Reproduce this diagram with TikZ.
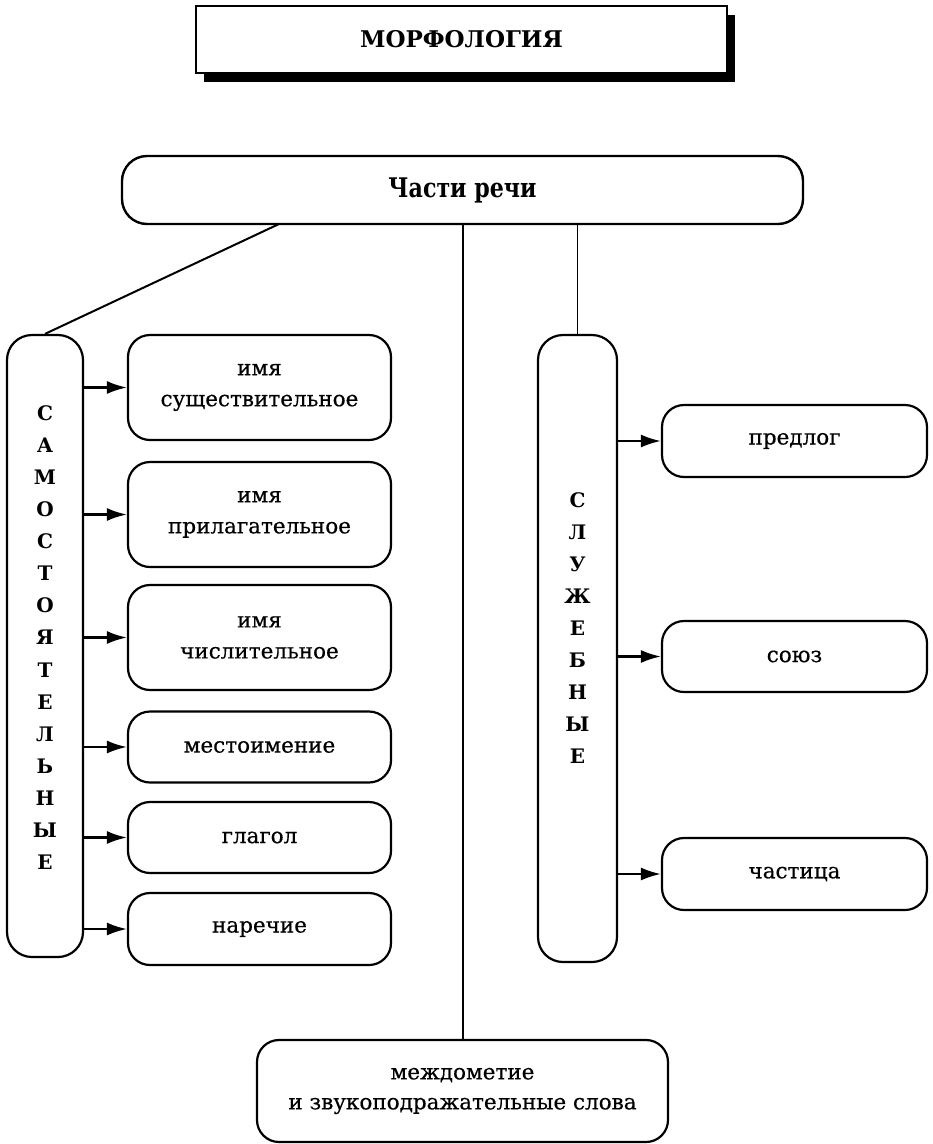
\documentclass[tikz,border=0pt]{standalone}
\usepackage{fontspec}
\setmainfont{DejaVu Serif}
\newfontfamily\bodyfont[FakeBold=0.5]{DejaVu Serif}
\newfontfamily\condfont[FakeStretch=0.82]{DejaVu Serif}
\usetikzlibrary{arrows.meta,shadows}
\begin{document}
\begin{tikzpicture}[x=1pt,y=-1pt,
  box/.style={draw, line width=2.2pt, rounded corners=22pt, inner sep=0pt, align=center,
    font=\bodyfont\fontsize{21.5}{31}\selectfont},
  vbox/.style={draw, line width=2.2pt, rounded corners=25pt, inner sep=0pt},
  vlet/.style={inner sep=0pt, align=center, font=\fontsize{20}{32.1}\selectfont\bfseries},
  link/.style={line width=2pt},
  thinlink/.style={line width=1.4pt},
  arr/.style={line width=2.2pt, -{Latex[length=20pt,width=13pt]}},
]
\useasboundingbox (0,0) rectangle (933,1144);

% title
\node[draw, line width=2.6pt, fill=white, minimum width=531pt, minimum height=67pt, inner sep=0pt,
  drop shadow={shadow xshift=8pt, shadow yshift=-9pt, fill=black, opacity=1},
  font=\fontsize{23}{28}\selectfont\bfseries] (title) at (461.5,39.5) {МОРФОЛОГИЯ};

% parts of speech
\node[draw, line width=2.4pt, rounded corners=25pt, minimum width=681pt, minimum height=68pt, inner sep=0pt,
  font=\condfont\fontsize{27}{30}\selectfont\bfseries] (top) at (462.5,190) {Части речи};

% independent
\node[vbox, minimum width=76pt, minimum height=622pt] (sam) at (45,646) {};
\node[vlet] (samtxt) at (45,637.5) {С\\А\\М\\О\\С\\Т\\О\\Я\\Т\\Е\\Л\\Ь\\Н\\Ы\\Е};

\node[box, minimum width=263pt, minimum height=105pt] (b1) at (259.5,387.5) {имя\\существительное};
\node[box, minimum width=263pt, minimum height=105pt] (b2) at (259.5,514.5) {имя\\прилагательное};
\node[box, minimum width=263pt, minimum height=105pt] (b3) at (259.5,637.5) {имя\\числительное};
\node[box, minimum width=263pt, minimum height=71pt] (b4) at (259.5,747) {местоимение};
\node[box, minimum width=263pt, minimum height=71pt] (b5) at (259.5,837.5) {глагол};
\node[box, minimum width=263pt, minimum height=72pt] (b6) at (259.5,929) {наречие};

% auxiliary
\node[vbox, minimum width=79pt, minimum height=627pt] (slu) at (577.5,648.5) {};
\node[vlet] (slutxt) at (577.5,628) {С\\Л\\У\\Ж\\Е\\Б\\Н\\Ы\\Е};

\node[box, minimum width=265pt, minimum height=72pt] (p1) at (794.5,441) {предлог};
\node[box, minimum width=265pt, minimum height=71pt] (p2) at (794.5,656.5) {союз};
\node[box, minimum width=265pt, minimum height=72pt] (p3) at (794.5,874) {частица};

% interjection
\node[box, minimum width=411pt, minimum height=102pt, font=\bodyfont\fontsize{21.5}{30}\selectfont] (bot) at (462.5,1091)
  {междометие\\и звукоподражательные слова};

% connectors
\coordinate (dg) at (279,224);
\draw[link] (dg) -- (sam.north);
\draw[link] (top.south) -- (bot.north);
\draw[thinlink] (slu.north |- top.south) -- (slu.north);

\foreach \b in {b1,b2,b3,b4,b5,b6}
  \draw[arr] (sam.east |- \b.west) -- (\b.west);
\foreach \b in {p1,p2,p3}
  \draw[arr] (slu.east |- \b.west) -- (\b.west);
\end{tikzpicture}
\end{document}
